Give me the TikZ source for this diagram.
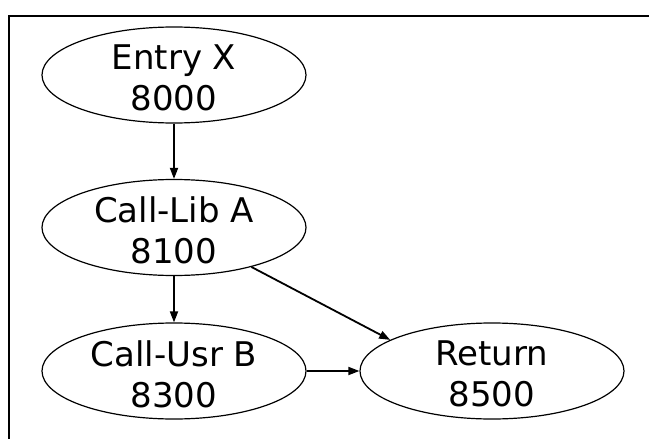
\documentclass[tikz,border=0pt]{standalone}
\usepackage{fontspec}
\setmainfont{DejaVu Sans}
\usetikzlibrary{shapes.geometric,arrows.meta}
\begin{document}
\begin{tikzpicture}[x=1pt,y=-1pt,
  block/.style={ellipse,draw,line width=1.2pt,inner sep=0pt,
    minimum width=264pt,minimum height=96pt},
  txt/.style={align=center,font=\fontsize{34}{41.3}\selectfont,
    inner sep=0pt,yshift=-3pt},
  edge/.style={line width=1.8pt,-{Triangle[length=11pt,width=8pt]}}]
  \useasboundingbox (0,0) rectangle (649,439);
  % frame
  \draw[line width=2pt] (9,445) -- (9,16) -- (655,16);
  % blocks
  \node[block] (entry) at (174,75) {};
  \node[txt] at (entry.center) {Entry X\\8000};
  \node[block] (lib) at (174,227.5) {};
  \node[txt] at (lib.center) {Call-Lib A\\8100};
  \node[block] (usr) at (174,371) {};
  \node[txt] at (usr.center) {Call-Usr B\\8300};
  \node[block] (ret) at (492,371) {};
  \node[txt] at (ret.center) {Return\\8500};
  % edges
  \draw[edge] (entry.south) -- (lib.north);
  \draw[edge] (lib.south) -- (usr.north);
  \draw[edge] (lib.-27) -- (ret.163);
  \draw[edge] (usr.east) -- (ret.west);
\end{tikzpicture}
\end{document}
